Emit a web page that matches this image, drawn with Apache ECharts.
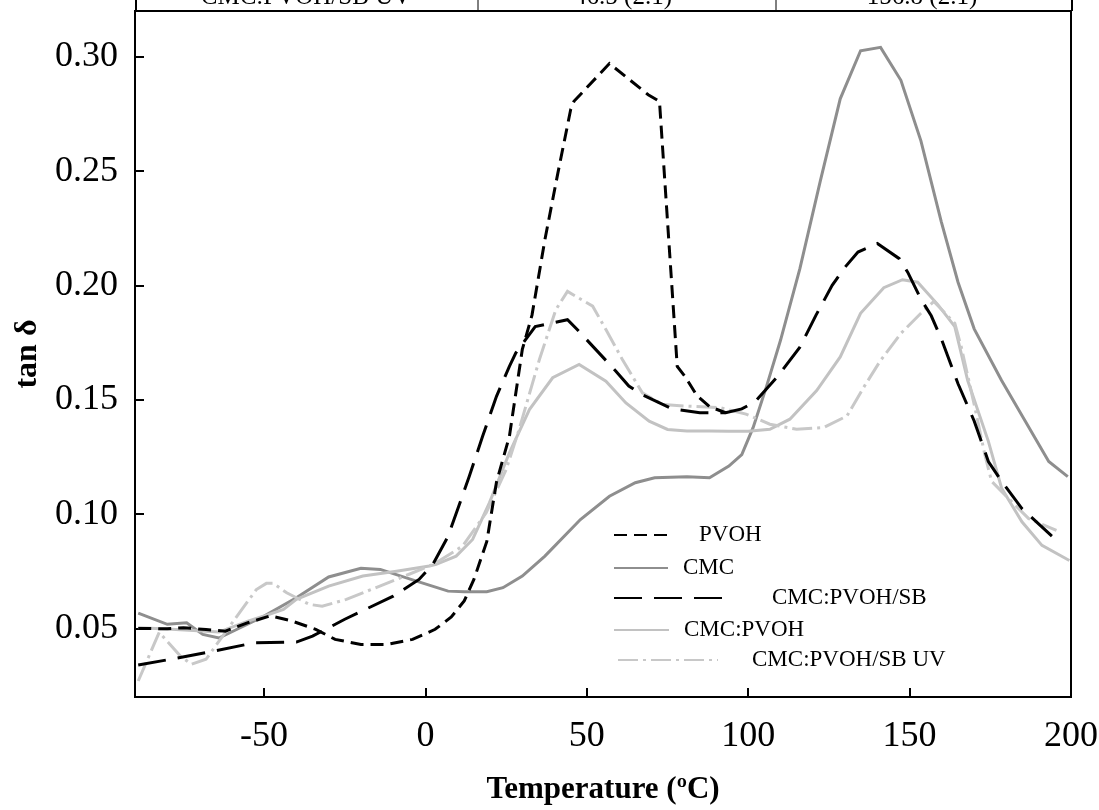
<!DOCTYPE html>
<html>
<head>
<meta charset="utf-8">
<script src="https://cdn.jsdelivr.net/npm/echarts@6/dist/echarts.min.js"></script>
<style>html,body{margin:0;padding:0;background:#fff}#c{width:1099px;height:810px}</style>
</head>
<body>
<div id="c"></div>
<script>
// ---- data ----
const xTicks = [-50, 0, 50, 100, 150, 200];
const yTicks = [0.05, 0.10, 0.15, 0.20, 0.25, 0.30];
const tableRow = ['CMC:PVOH/SB UV', '46.5 (2.1)', '156.8 (2.1)'];
const names = ['PVOH', 'CMC', 'CMC:PVOH/SB', 'CMC:PVOH', 'CMC:PVOH/SB UV'];

const pvohT = [-89, -80, -75, -68, -62, -55, -48, -42, -34, -28, -20, -12, -4, 3, 8, 12, 15, 19, 22, 26, 30, 33, 37, 41, 45, 46, 57, 69, 72.5, 78, 80.5, 84, 88, 93];
const pvohV = [0.050, 0.0498, 0.0503, 0.0495, 0.0488, 0.0525, 0.0555, 0.0535, 0.0496, 0.0452, 0.0430, 0.0430, 0.0452, 0.0496, 0.055, 0.062, 0.0714, 0.088, 0.114, 0.134, 0.172, 0.187, 0.22, 0.249, 0.277, 0.2805, 0.297, 0.2834, 0.2805, 0.1646, 0.160, 0.152, 0.147, 0.1443];

const cmcT = [-89, -80, -74, -69, -64, -59, -50, -40, -30, -20, -14, -4, 7, 12, 19, 24, 30, 37, 48, 57, 65, 71, 81, 88, 94, 98, 101.5, 105.6, 110, 116, 122.3, 128.5, 134.8, 141, 147.3, 153.5, 159.8, 165, 170, 178.5, 185.8, 193.1, 199];
const cmcV = [0.0567, 0.0518, 0.0525, 0.0474, 0.0458, 0.0492, 0.0554, 0.0634, 0.0725, 0.0763, 0.0758, 0.0712, 0.0663, 0.066, 0.066, 0.0678, 0.0729, 0.0816, 0.0976, 0.1078, 0.1137, 0.1159, 0.1163, 0.1159, 0.121, 0.126, 0.1378, 0.1555, 0.176, 0.2073, 0.2455, 0.2816, 0.3026, 0.3041, 0.2897, 0.2632, 0.2279, 0.2014, 0.181, 0.1584, 0.1407, 0.123, 0.1164];

const sbT = [-89, -79, -68, -53, -40, -35, -25, -10, -2, 2.3, 7, 13.6, 17.7, 22, 26, 28, 34, 44, 47, 59, 63, 67, 76.5, 85, 93, 98, 102, 109, 116, 121, 126, 130, 134, 140, 146.8, 149.4, 153.5, 156.7, 160, 165, 170, 174.4, 178.5, 184.8, 195.5];
const sbV = [0.0340, 0.0365, 0.0394, 0.0437, 0.044, 0.0466, 0.054, 0.0641, 0.0714, 0.078, 0.0903, 0.1166, 0.134, 0.1515, 0.1646, 0.1705, 0.182, 0.185, 0.1807, 0.1625, 0.156, 0.1523, 0.146, 0.1443, 0.1443, 0.146, 0.149, 0.160, 0.173, 0.187, 0.200, 0.208, 0.2146, 0.2183, 0.2117, 0.2058, 0.194, 0.1867, 0.176, 0.157, 0.1407, 0.123, 0.1143, 0.1024, 0.0885];

const blendT = [-89, -80, -64, -55, -50, -44, -40, -30, -19.4, -9, 1.2, 3.3, 9.5, 14.6, 19.8, 26, 32.2, 39.4, 47.6, 55.9, 62.1, 69.3, 75, 81, 88, 94, 100, 106.7, 112.9, 121.2, 128.5, 134.8, 142, 147.8, 152.5, 158.8, 164, 168, 174.4, 178.5, 184.8, 191, 199.5];
const blendV = [0.0503, 0.0497, 0.0484, 0.0532, 0.0554, 0.0583, 0.0627, 0.0685, 0.0729, 0.075, 0.0773, 0.078, 0.0816, 0.0889, 0.1049, 0.1268, 0.1457, 0.1596, 0.1654, 0.1581, 0.1486, 0.1406, 0.137, 0.1363, 0.1363, 0.1362, 0.1362, 0.1371, 0.1415, 0.154, 0.1687, 0.1878, 0.199, 0.2025, 0.2014, 0.1915, 0.182, 0.1584, 0.1318, 0.1113, 0.0966, 0.0863, 0.0797];

const uvT = [-89, -82.5, -76, -72.5, -68, -62, -52.4, -49.3, -47.2, -43, -36, -32, -24.5, -9, 1.2, 3.3, 11.5, 18.8, 25, 29, 35.3, 40.4, 44, 51.8, 55.9, 61, 67.2, 73.4, 80.7, 91, 99.3, 106.7, 115, 123.3, 130.6, 135.8, 141, 147.3, 153.5, 157.5, 164, 166, 170.2, 173.3, 175.4, 180.6, 186.9, 195.5];
const uvV = [0.027, 0.0483, 0.038, 0.0343, 0.0365, 0.0483, 0.067, 0.0697, 0.0697, 0.0656, 0.0605, 0.0597, 0.0627, 0.0714, 0.0773, 0.0787, 0.086, 0.1006, 0.1195, 0.137, 0.1676, 0.1894, 0.1974, 0.1909, 0.1807, 0.1676, 0.153, 0.1479, 0.1472, 0.1466, 0.1437, 0.1393, 0.1371, 0.1378, 0.1429, 0.1555, 0.1672, 0.179, 0.1878, 0.193, 0.1834, 0.1731, 0.1467, 0.126, 0.1143, 0.1069, 0.098, 0.0929];

// ---- chart ----
const zip = (a, b) => a.map((t, i) => [t, b[i]]);
const FONT = "'Liberation Serif', 'Times New Roman', serif";
const chart = echarts.init(document.getElementById('c'), null, {renderer: 'canvas'});

function mkSeries(name, T, V, color, type, z) {
  return {
    name: name, type: 'line', data: zip(T, V), symbol: 'none', smooth: false, z: z,
    lineStyle: {color: color, width: 3, type: type, cap: 'butt', join: 'miter'},
    itemStyle: {color: color}
  };
}
function mkLegend(name, left, cy, w, gap) {
  return {
    data: [name], left: left, top: cy - 12, padding: 0, itemWidth: w, itemHeight: 24,
    selectedMode: false,
    itemStyle: {opacity: 0, color: 'rgba(0,0,0,0)', borderWidth: 0},
    textStyle: {fontFamily: FONT, fontSize: 23, color: '#000', padding: [0, 0, 0, gap], lineHeight: 24}
  };
}

const option = {
  animation: false,
  backgroundColor: '#fff',
  grid: {left: 135, right: 28, top: 11, bottom: 113, show: true, borderColor: '#000', borderWidth: 2,
         containLabel: false, outerBoundsMode: 'none'},
  xAxis: {
    type: 'value', min: -90, max: 200,
    name: 'Temperature (ºC)', nameLocation: 'middle', nameGap: 77,
    nameTextStyle: {fontFamily: FONT, fontSize: 31, fontWeight: 'bold', color: '#000'},
    axisLine: {show: true, onZero: false, lineStyle: {color: '#000', width: 2}},
    axisTick: {show: true, inside: true, length: 9, lineStyle: {color: '#000', width: 2}, customValues: xTicks},
    axisLabel: {fontFamily: FONT, fontSize: 36, color: '#000', margin: 22, customValues: xTicks},
    splitLine: {show: false}
  },
  yAxis: {
    type: 'value', min: 0.02, max: 0.32,
    name: 'tan δ', nameLocation: 'middle', nameGap: 91, nameRotate: 90,
    nameTextStyle: {fontFamily: FONT, fontSize: 32, fontWeight: 'bold', color: '#000'},
    axisLine: {show: true, onZero: false, lineStyle: {color: '#000', width: 2}},
    axisTick: {show: true, inside: true, length: 9, lineStyle: {color: '#000', width: 2}, customValues: yTicks},
    axisLabel: {fontFamily: FONT, fontSize: 36, color: '#000', margin: 17, customValues: yTicks,
      formatter: v => v.toFixed(2)},
    splitLine: {show: false}
  },
  legend: [
    mkLegend('PVOH', 613, 535, 59, 21),
    mkLegend('CMC', 613, 568, 54, 10),
    mkLegend('CMC:PVOH/SB', 613, 598, 114, 39),
    mkLegend('CMC:PVOH', 613, 630, 55, 10),
    mkLegend('CMC:PVOH/SB UV', 617, 660, 100, 29)
  ],
  series: [
    mkSeries('CMC', cmcT, cmcV, '#8e8e8e', 'solid', 2),
    mkSeries('CMC:PVOH', blendT, blendV, '#c2c2c2', 'solid', 3),
    mkSeries('CMC:PVOH/SB UV', uvT, uvV, '#c8c8c8', [20, 5, 3, 5], 4),
    mkSeries('CMC:PVOH/SB', sbT, sbV, '#000', [28, 12], 5),
    mkSeries('PVOH', pvohT, pvohV, '#000', [13, 7], 6)
  ],
  graphic: [
    {type: 'line', shape: {x1: 136, y1: 0, x2: 136, y2: 11}, style: {stroke: '#000', lineWidth: 2}},
    {type: 'line', shape: {x1: 478, y1: 0, x2: 478, y2: 11}, style: {stroke: '#000', lineWidth: 1}},
    {type: 'line', shape: {x1: 776, y1: 0, x2: 776, y2: 11}, style: {stroke: '#000', lineWidth: 1}},
    {type: 'line', shape: {x1: 1072, y1: 0, x2: 1072, y2: 11}, style: {stroke: '#000', lineWidth: 2}},
    {type: 'text', x: 306, y: -3, style: {text: tableRow[0], fontFamily: FONT, fontSize: 25, fill: '#000', textAlign: 'center', textVerticalAlign: 'middle'}},
    {type: 'text', x: 623, y: -3, style: {text: tableRow[1], fontFamily: FONT, fontSize: 25, fill: '#000', textAlign: 'center', textVerticalAlign: 'middle'}},
    {type: 'text', x: 922, y: -3, style: {text: tableRow[2], fontFamily: FONT, fontSize: 25, fill: '#000', textAlign: 'center', textVerticalAlign: 'middle'}}
  ]
};
chart.setOption(option);
</script>
</body>
</html>
